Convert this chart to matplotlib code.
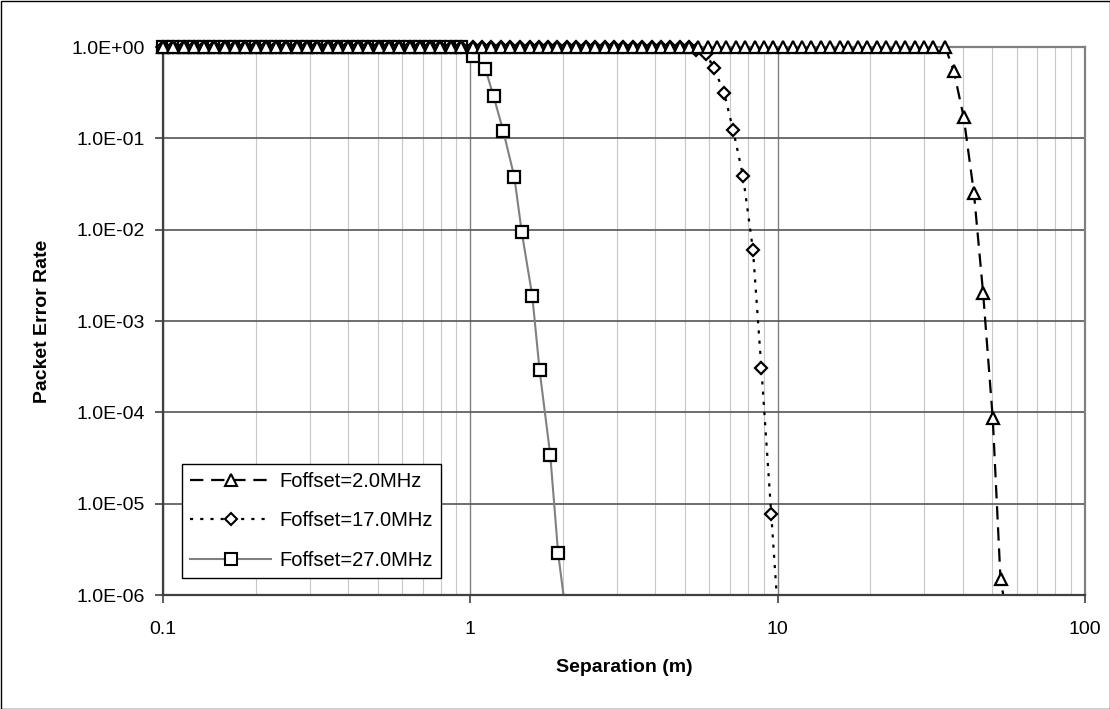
import numpy as np
import matplotlib
matplotlib.use("Agg")
import matplotlib.pyplot as plt
from matplotlib.lines import Line2D
from matplotlib.patches import Rectangle
from matplotlib.ticker import FixedLocator, FuncFormatter, NullFormatter, NullLocator, LogLocator

plt.rcParams['font.family'] = ['Liberation Sans', 'DejaVu Sans']

# separation grid (m) where the curves are still saturated at PER = 1
sep_low = [0.100, 0.108, 0.117, 0.126, 0.136, 0.147, 0.159, 0.171, 0.185, 0.200,
           0.216, 0.233, 0.252, 0.272, 0.294, 0.317, 0.343, 0.370, 0.400, 0.432,
           0.466, 0.503, 0.544, 0.587, 0.634, 0.685, 0.740, 0.799, 0.863, 0.932]
sep_mid = [1.02, 1.09, 1.17, 1.26, 1.35, 1.45, 1.56, 1.67, 1.79, 1.92, 2.06, 2.21,
           2.38, 2.55, 2.74, 2.93, 3.15, 3.38, 3.63, 3.89, 4.17, 4.48, 4.81, 5.16]
sep_high = [5.52, 5.92, 6.35, 6.81, 7.31, 7.84, 8.42, 9.03, 9.69, 10.4, 11.2, 12.0, 12.8,
            13.8, 14.8, 15.9, 17.0, 18.3, 19.6, 21.0, 22.6, 24.2, 26.0, 27.9, 29.9, 32.1]

# Foffset = 2.0 MHz
sep_2 = sep_low + sep_mid + sep_high + [35.1, 37.4, 40.3, 43.5, 46.6, 50.1, 53.1, 56.0]
per_2 = [1.0] * (len(sep_low) + len(sep_mid) + len(sep_high)) + \
        [1.0, 0.55, 0.17, 0.0254, 2.04e-3, 8.6e-5, 1.48e-6, 5.4e-7]

# Foffset = 17.0 MHz
sep_17 = sep_low + sep_mid + [5.43, 5.85, 6.21, 6.70, 7.17, 7.71, 8.31, 8.85, 9.53, 10.2]
per_17 = [1.0] * (len(sep_low) + len(sep_mid)) + \
         [0.93, 0.84, 0.59, 0.31, 0.122, 0.039, 6.0e-3, 3.05e-4, 7.7e-6, 2.6e-7]

# Foffset = 27.0 MHz
sep_27 = sep_low + [1.02, 1.12, 1.19, 1.28, 1.39, 1.47, 1.59, 1.68, 1.82, 1.93, 2.05]
per_27 = [1.0] * len(sep_low) + \
         [0.80, 0.57, 0.29, 0.12, 0.038, 9.4e-3, 1.9e-3, 2.9e-4, 3.4e-5, 2.9e-6, 5.9e-7]

labels = ['Foffset=2.0MHz', 'Foffset=17.0MHz', 'Foffset=27.0MHz']
y_ticks = [1e-6, 1e-5, 1e-4, 1e-3, 1e-2, 1e-1, 1.0]
x_ticks = [0.1, 1, 10, 100]

styles = [
    dict(color='black', lw=1.6, ls=(0, (6, 3.5)), marker='^', ms=9, z=3),
    dict(color='black', lw=1.6, ls=(0, (1.4, 3.2)), marker='D', ms=6, z=2),
    dict(color='#808080', lw=1.5, ls='-', marker='s', ms=8.5, z=1),
]

W, H = 1110, 709
fig = plt.figure(figsize=(W / 100, H / 100), dpi=100)
L, R, T, B = 163, 1085, 47, 595
ax = fig.add_axes([L / W, 1 - B / H, (R - L) / W, (B - T) / H])
ax.set_xscale('log')
ax.set_yscale('log')

handles = []
for xs, ys, st, lab in zip([sep_2, sep_17, sep_27], [per_2, per_17, per_27], styles, labels):
    # line is clipped at the axes, markers are not (so the PER=1 row is whole)
    ax.plot(xs, ys, color=st['color'], lw=st['lw'], ls=st['ls'], zorder=2 + st['z'] * 0.1)
    ax.plot(xs[:-1], ys[:-1], ls='none', marker=st['marker'], ms=st['ms'],
            mfc='white', mec='black', mew=1.6, zorder=3 + st['z'] * 0.1, clip_on=False)
    handles.append(Line2D([], [], color=st['color'], lw=st['lw'], ls=st['ls'],
                          marker=st['marker'], ms=st['ms'], mfc='white',
                          mec='black', mew=1.5))

ax.set_xlim(0.1, 100)
ax.set_ylim(1e-6, 1)

ax.xaxis.set_major_locator(FixedLocator(x_ticks))
ax.xaxis.set_major_formatter(FuncFormatter(lambda v, _: f'{v:g}'))
ax.xaxis.set_minor_locator(LogLocator(base=10, subs=np.arange(2, 10)))
ax.xaxis.set_minor_formatter(NullFormatter())
ax.yaxis.set_major_locator(FixedLocator(y_ticks))
ax.yaxis.set_major_formatter(FuncFormatter(lambda v, _: f'{v:.1E}'))
ax.yaxis.set_minor_locator(NullLocator())

ax.tick_params(which='major', direction='out', length=6, width=1.2, color='#404040',
               labelsize=14)
ax.tick_params(axis='y', pad=7)
ax.tick_params(axis='x', pad=13)
ax.tick_params(axis='x', which='minor', length=0)

ax.grid(True, axis='y', which='major', color='#555555', lw=1.2)
ax.grid(True, axis='x', which='major', color='#808080', lw=1.0)
ax.grid(True, axis='x', which='minor', color='#c8c8c8', lw=0.8)
ax.set_axisbelow(True)

for side in ['left', 'bottom']:
    ax.spines[side].set_color('#404040')
    ax.spines[side].set_linewidth(1.6)
for side in ['top', 'right']:
    ax.spines[side].set_color('#808080')
    ax.spines[side].set_linewidth(1.6)

ax.set_xlabel('Separation (m)', fontsize=14, fontweight='bold', va='center')
ax.xaxis.set_label_coords(0.5, -0.133)
ax.set_ylabel('Packet Error Rate', fontsize=14, fontweight='bold', va='center')
ax.yaxis.set_label_coords(-0.131, 0.5)

leg = ax.legend(handles, labels, loc='lower left', bbox_to_anchor=(0.0206, 0.031),
                borderaxespad=0, fontsize=14.5, handlelength=4.0, handletextpad=0.4,
                labelspacing=1.0, borderpad=0.42, numpoints=1, fancybox=False,
                framealpha=1, edgecolor='black')
leg.get_frame().set_linewidth(1.0)
leg.set_zorder(6)

fig.add_artist(Rectangle((0.5 / W, 0.5 / H), 1 - 1 / W, 1 - 1 / H, transform=fig.transFigure,
                         fill=False, ec='black', lw=1.0))

fig.savefig('out.png', dpi=100)
